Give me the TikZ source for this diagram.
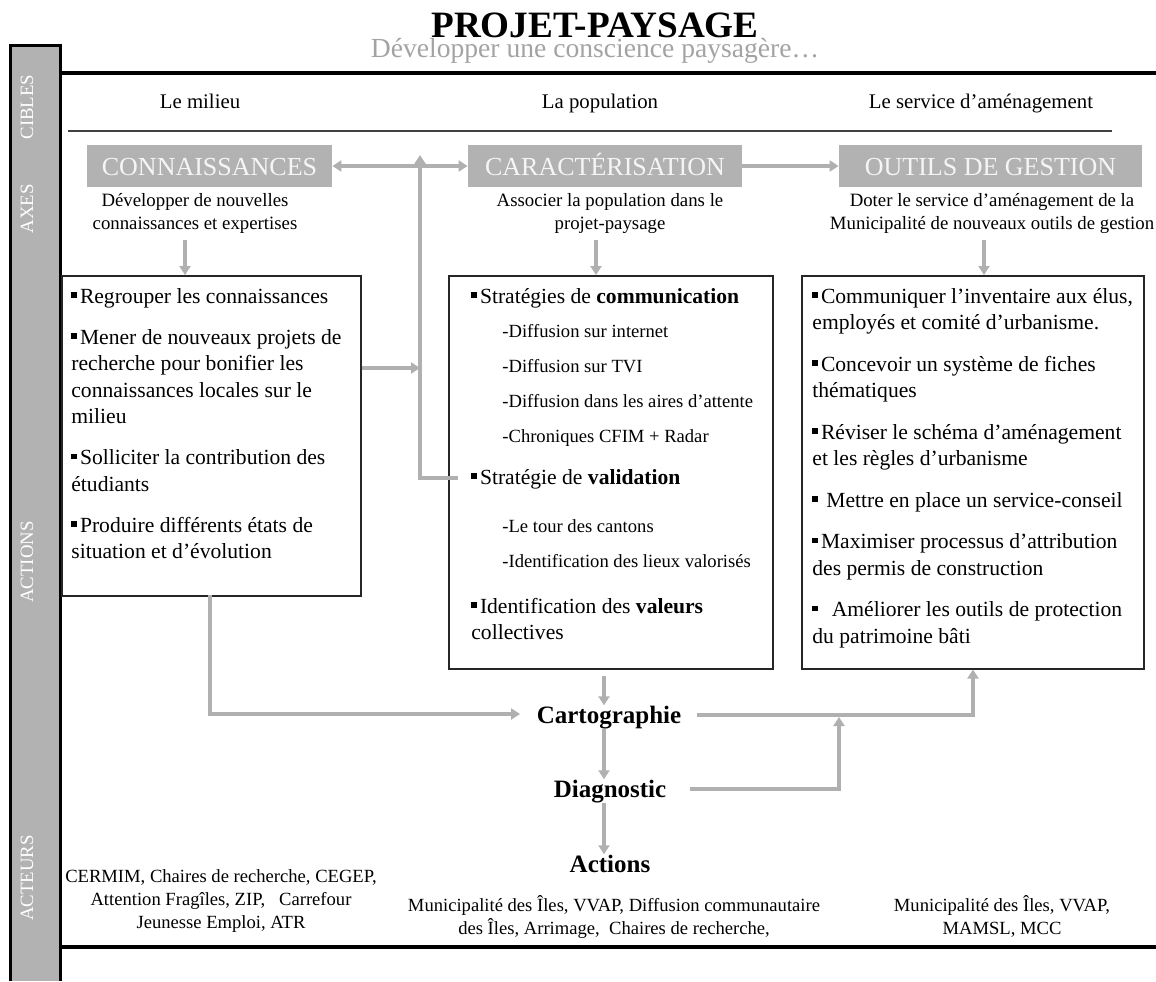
\documentclass[tikz,border=0pt]{standalone}
\usepackage{fontspec}
\setmainfont{Liberation Serif}
\usetikzlibrary{arrows.meta}

\newlength{\du}
\setlength{\du}{0.5pt}

\definecolor{grisfond}{rgb}{0.70,0.70,0.70}
\definecolor{grisfleche}{rgb}{0.69,0.69,0.69}
\definecolor{grissoustitre}{rgb}{0.64,0.64,0.64}
\definecolor{grisligne}{rgb}{0.25,0.25,0.25}
\definecolor{blanccasse}{rgb}{0.96,0.96,0.96}

\newcommand{\puce}{\rule[2.8pt]{2.7pt}{2.7pt}\hspace{1.6pt}}
\newcommand{\sousitem}[1]{\hspace*{15.5pt}{\fontsize{9.3pt}{13.25pt}\selectfont #1}}

\tikzset{
  fleche/.style={draw=grisfleche, line width=2pt, ->, >={Triangle[width=5.5pt,length=4.5pt]}},
  axe/.style={fill=grisfond, text=blanccasse, minimum height=42\du, inner sep=0pt, text height=9pt, text depth=0pt, font=\fontsize{13pt}{15pt}\selectfont},
  cadre/.style={draw=black!85, line width=1.5\du, anchor=north west, inner sep=0pt},
  texte/.style={anchor=north west, inner sep=0pt, align=left, font=\fontsize{10.8pt}{13.25pt}\selectfont},
  cible/.style={anchor=base, inner sep=0pt, font=\fontsize{10.4pt}{12pt}\selectfont},
  but/.style={anchor=north, inner sep=0pt, align=center, font=\fontsize{9.4pt}{11.5pt}\selectfont},
  onglet/.style={rotate=90, text=white, inner sep=0pt, font=\fontsize{9.4pt}{11pt}\selectfont},
  acteur/.style={anchor=north, inner sep=0pt, align=center, font=\fontsize{9.3pt}{11.5pt}\selectfont},
  etape/.style={anchor=base, inner sep=0pt, font=\bfseries\fontsize{12.5pt}{15pt}\selectfont}
}

\begin{document}
\begin{tikzpicture}
\pgftransformxscale{1.000000}
\pgftransformyscale{-1.000000}
\useasboundingbox (0,0) rectangle (1156\du,981\du);

% bandeau de gauche
\draw[line width=3\du, fill=grisfond] (10\du,981\du)--(10\du,45\du)--(60\du,45\du)--(60\du,981\du);
\node[onglet] (ongletCibles) at (27\du,107\du) {CIBLES};
\node[onglet] (ongletAxes) at (27\du,209\du) {AXES};
\node[onglet] (ongletActions) at (27\du,562\du) {ACTIONS};
\node[onglet] (ongletActeurs) at (27\du,878\du) {ACTEURS};

\node[anchor=base, inner sep=0pt, text=grissoustitre, font=\fontsize{13.8pt}{16pt}\selectfont] (sousTitre) at (595\du,57\du) {Développer une conscience paysagère…};
\node[anchor=base, inner sep=0pt, font=\bfseries\fontsize{18.6pt}{20pt}\selectfont] (titre) at (595\du,37\du) {PROJET-PAYSAGE};

\draw[line width=4\du] (60\du,73\du)--(1156\du,73\du);
\draw[line width=4\du] (60\du,947\du)--(1156\du,947\du);
\draw[grisligne, line width=1.5\du] (68\du,131\du)--(1112\du,131\du);

\node[cible] (cibleMilieu) at (200\du,108\du) {Le milieu};
\node[cible] (ciblePopulation) at (600\du,108\du) {La population};
\node[cible] (cibleService) at (981\du,108\du) {Le service d’aménagement};

\node[axe, minimum width=245\du] (connaissances) at (209.5\du,166\du) {CONNAISSANCES};
\node[axe, minimum width=274\du] (caracterisation) at (605\du,166\du) {CARACTÉRISATION};
\node[axe, minimum width=303\du] (outils) at (990.5\du,166\du) {OUTILS DE GESTION};

\node[but] (butMilieu) at (195\du,190\du) {\strut Développer de nouvelles\\connaissances et expertises};
\node[but] (butPopulation) at (610\du,190\du) {\strut Associer la population dans le\\projet-paysage};
\node[but] (butService) at (992\du,190\du) {\strut Doter le service d’aménagement de la\\Municipalité de nouveaux outils de gestion};

\node[cadre, minimum width=299\du, minimum height=320\du] (boiteMilieu) at (61\du,275\du) {};
\node[cadre, minimum width=324\du, minimum height=393\du] (boitePopulation) at (448\du,275\du) {};
\node[cadre, minimum width=342\du, minimum height=393\du] (boiteService) at (801\du,275\du) {};

\node[texte] (txtMilieu) at (71\du,284.5\du) {\strut\puce Regrouper les connaissances\\[7.25pt]
\puce Mener de nouveaux projets de\\
recherche pour bonifier les\\
connaissances locales sur le\\
milieu\\[7.25pt]
\puce Solliciter la contribution des\\
étudiants\\[7.25pt]
\puce Produire différents états de\\
situation et d’évolution};

\node[texte] (txtPopulation) at (471\du,284.5\du) {\strut\puce Stratégies de \textbf{communication}\\[3.75pt]
\sousitem{-Diffusion sur internet}\\[4.25pt]
\sousitem{-Diffusion sur TVI}\\[4.25pt]
\sousitem{-Diffusion dans les aires d’attente}\\[4.25pt]
\sousitem{-Chroniques CFIM + Radar}\\[7.75pt]
\puce Stratégie de \textbf{validation}\\[10.75pt]
\sousitem{-Le tour des cantons}\\[4.25pt]
\sousitem{-Identification des lieux valorisés}\\[9.75pt]
\puce Identification des \textbf{valeurs}\\
collectives};

\node[texte] (txtService) at (812\du,284.5\du) {\strut\puce Communiquer l’inventaire aux élus,\\
employés et comité d’urbanisme.\\[7.5pt]
\puce Concevoir un système de fiches\\
thématiques\\[7.5pt]
\puce Réviser le schéma d’aménagement\\
et les règles d’urbanisme\\[7.5pt]
\puce\ Mettre en place un service-conseil\\[7.5pt]
\puce Maximiser processus d’attribution\\
des permis de construction\\[7.5pt]
\puce\ \ Améliorer les outils de protection\\
du patrimoine bâti};

\node[etape] (cartographie) at (609\du,723\du) {Cartographie};
\node[etape] (diagnostic) at (610\du,797\du) {Diagnostic};
\node[etape] (actions) at (610\du,872\du) {Actions};

\node[acteur] (acteursMilieu) at (221\du,866\du) {\strut CERMIM, Chaires de recherche, CEGEP,\\Attention Fragîles, ZIP, \ \ Carrefour\\Jeunesse Emploi, ATR};
\node[acteur] (acteursPopulation) at (614\du,895\du) {\strut Municipalité des Îles, VVAP, Diffusion communautaire\\des Îles, Arrimage, \ Chaires de recherche,};
\node[acteur] (acteursService) at (1002\du,895\du) {\strut Municipalité des Îles, VVAP,\\MAMSL, MCC};

\coordinate (descenteMilieu) at (185\du,240\du);
\coordinate (descentePopulation) at (596\du,240\du);
\coordinate (descenteService) at (984\du,240\du);
\coordinate (retourHaut) at (420\du,155\du);
\coordinate (retourBas) at (420\du,478\du);
\coordinate (validation) at (458\du,478\du);
\coordinate (jonction) at (420\du,368\du);
\coordinate (sortieMilieu) at (210\du,595\du);
\coordinate (entreeCarto) at (520\du,714\du);
\coordinate (sortiePopulation) at (604\du,676\du);
\coordinate (sortieCarto) at (697\du,715\du);
\coordinate (montee) at (973\du,715\du);
\coordinate (sortieDiag) at (690\du,789\du);
\coordinate (jonctionDiag) at (839\du,717\du);

\draw[fleche, <->] (connaissances.east)--(caracterisation.west);
\draw[fleche] (caracterisation.east)--(outils.west);
\draw[fleche] (descenteMilieu)--(descenteMilieu |- boiteMilieu.north);
\draw[fleche] (descentePopulation)--(descentePopulation |- boitePopulation.north);
\draw[fleche] (descenteService)--(descenteService |- boiteService.north);
\draw[fleche] (validation)--(retourBas)--(retourHaut);
\draw[fleche] (boiteMilieu.east |- jonction)--(jonction);
\draw[fleche] (sortieMilieu) |- (entreeCarto);
\draw[fleche] (sortiePopulation)--(sortiePopulation |- cartographie.north);
\draw[fleche] (sortiePopulation |- cartographie.south)--(sortiePopulation |- diagnostic.north);
\draw[fleche] (sortiePopulation |- diagnostic.south)--(sortiePopulation |- actions.north);
\draw[fleche] (sortieCarto)--(montee)--(montee |- boiteService.south);
\draw[fleche] (sortieDiag) -| (jonctionDiag);
\end{tikzpicture}
\end{document}
